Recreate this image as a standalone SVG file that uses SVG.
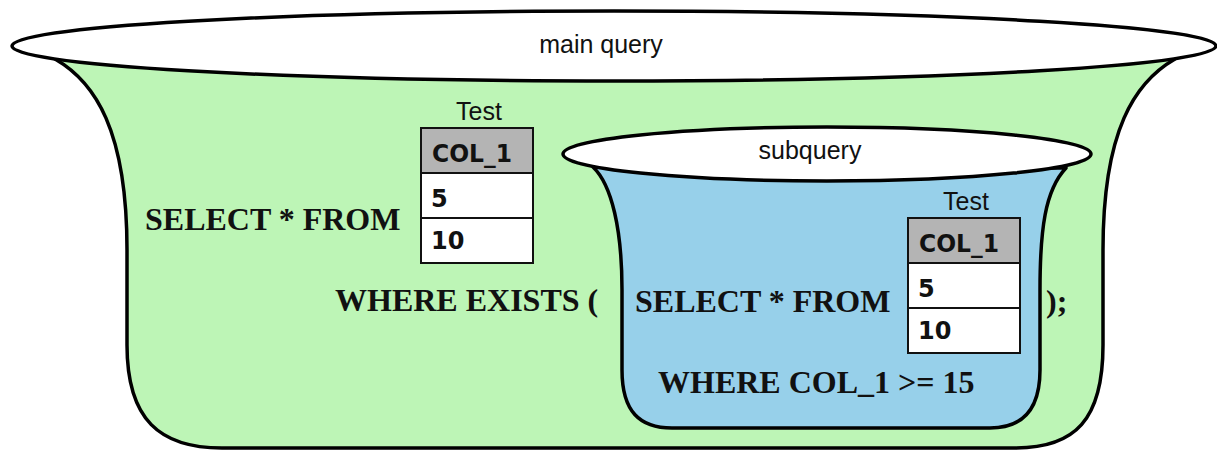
<svg xmlns="http://www.w3.org/2000/svg" width="1217" height="450" viewBox="0 0 1217 450">
  <style>
    .outline { stroke: #000; stroke-width: 3.5; stroke-linejoin: round; }
    .rim { fill: #fff; stroke: #000; stroke-width: 3.5; }
    .label { font-family: "Liberation Sans", Arial, sans-serif; font-size: 25px; fill: #111; }
    .sql { font-family: "Liberation Serif", "Times New Roman", serif; font-weight: bold; font-size: 32px; fill: #111; }
    .cell { fill: #fff; stroke: #111; stroke-width: 2; }
    .head { fill: #b4b4b4; stroke: #111; stroke-width: 2; }
    .val { font-family: "DejaVu Sans", sans-serif; font-weight: bold; font-size: 24px; fill: #111; }
  </style>

  <!-- outer bowl: main query -->
  <g id="main-query">
    <path class="outline" fill="#bdf5b6" d="M 55,59 C 95,82 127,130 127,250 L 127,345 C 127,420 160,448 222,448 L 1015,448 C 1075,448 1103,420 1103,345 L 1103,250 C 1103,130 1135,82 1175,59 Z"/>
    <ellipse class="rim" cx="614" cy="46" rx="602" ry="35"/>
    <text class="label" x="601" y="53" text-anchor="middle" font-size="27">main query</text>
    <text class="sql" x="145" y="230">SELECT * FROM</text>
    <text class="sql" x="335" y="311">WHERE EXISTS (</text>
    <text class="sql" x="1046" y="312">);</text>
  </g>

  <!-- inner bowl: subquery -->
  <g id="subquery">
    <path class="outline" fill="#97d0ea" d="M 593,167 C 612,185 622,230 622,290 L 622,370 C 622,412 640,428 672,428 L 990,428 C 1022,428 1040,410 1040,370 L 1040,290 C 1040,230 1045,190 1066,168 Z"/>
    <ellipse class="rim" cx="827" cy="154" rx="264" ry="27"/>
    <text class="label" x="810" y="159" text-anchor="middle" font-size="27">subquery</text>
    <text class="sql" x="635" y="312">SELECT * FROM</text>
    <text class="sql" x="658" y="393">WHERE COL_1 &gt;= 15</text>
  </g>

  <!-- table Test in the main query -->
  <g id="table-outer">
    <text class="label" x="479" y="120" text-anchor="middle">Test</text>
    <rect class="head" x="421" y="128" width="112" height="45"/>
    <rect class="cell" x="421" y="173" width="112" height="45"/>
    <rect class="cell" x="421" y="218" width="112" height="45"/>
    <text class="val" x="432" y="162" textLength="80" lengthAdjust="spacingAndGlyphs">COL_1</text>
    <text class="val" x="431" y="207">5</text>
    <text class="val" x="431" y="249">10</text>
  </g>

  <!-- table Test in the subquery -->
  <g id="table-inner">
    <text class="label" x="966" y="210" text-anchor="middle">Test</text>
    <rect class="head" x="908" y="218" width="112" height="45"/>
    <rect class="cell" x="908" y="263" width="112" height="45"/>
    <rect class="cell" x="908" y="308" width="112" height="45"/>
    <text class="val" x="919" y="252" textLength="80" lengthAdjust="spacingAndGlyphs">COL_1</text>
    <text class="val" x="918" y="297">5</text>
    <text class="val" x="918" y="339">10</text>
  </g>

  <!-- no connectors in this figure -->
  <g id="connectors"/>
</svg>
